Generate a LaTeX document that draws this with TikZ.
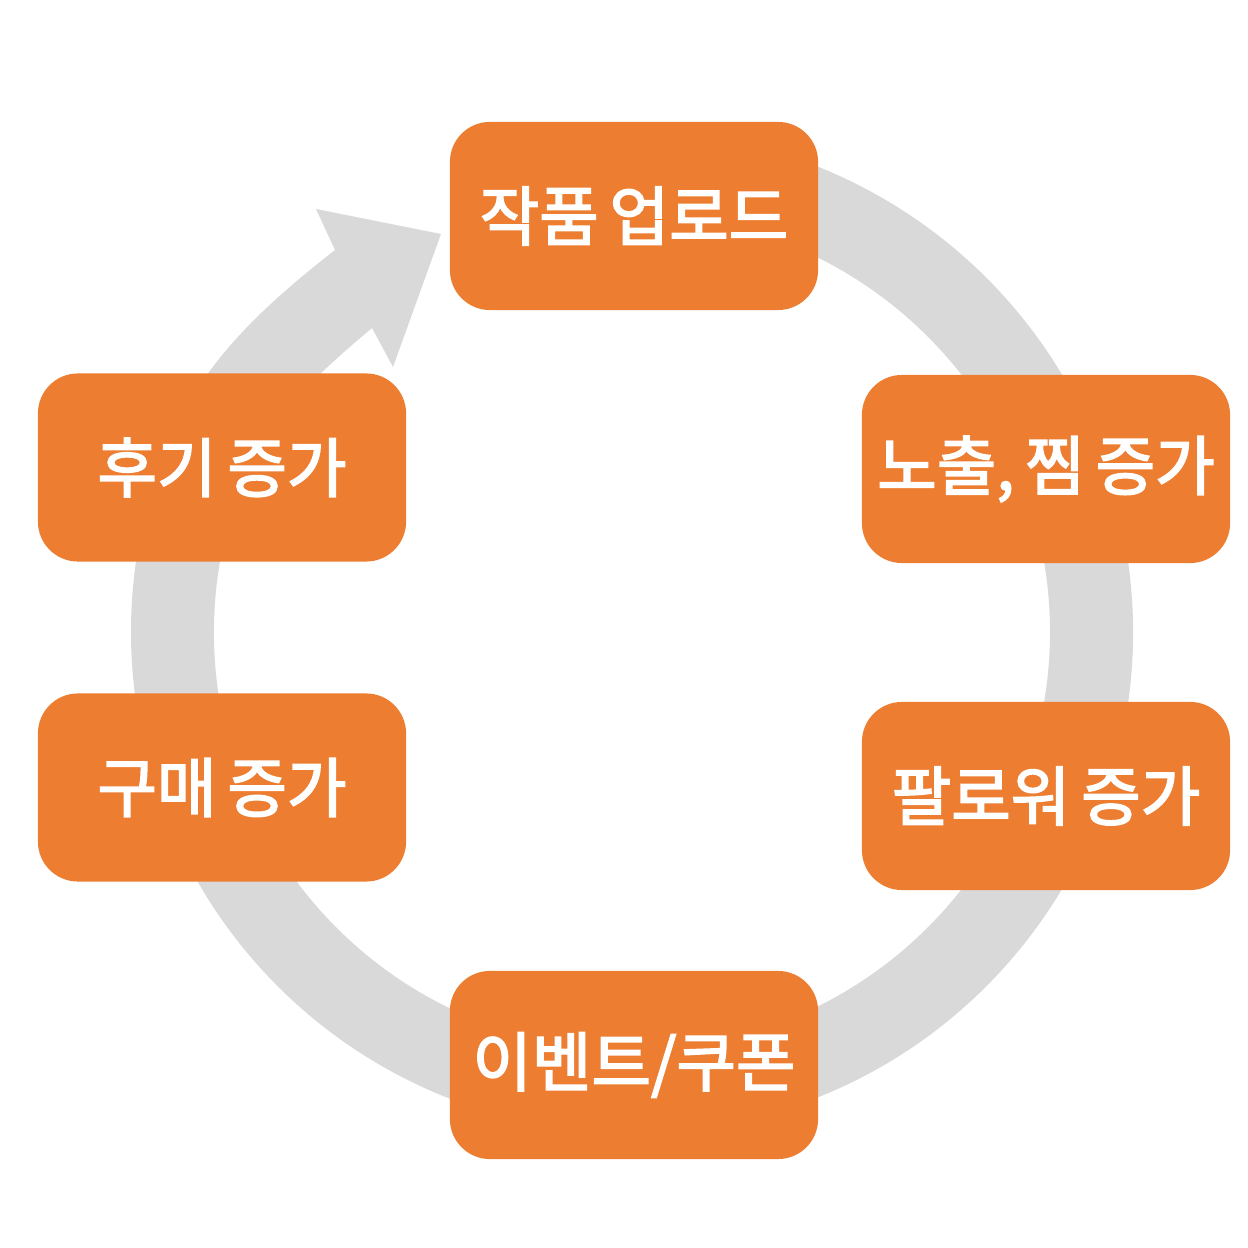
\documentclass[tikz,border=0pt]{standalone}
\usepackage{fontspec}
\newfontfamily\kr{Noto Sans CJK KR}[FakeBold=2.6, WordSpace=0.75]
\usetikzlibrary{calc}
\definecolor{boxorange}{HTML}{ED7D31}
\definecolor{bandgray}{HTML}{D9D9D9}
\tikzset{
  stepbox/.style={fill=boxorange, draw=none, rounded corners=0.4cm,
    minimum width=3.68cm, minimum height=1.88cm, inner sep=0pt,
    text=white, font=\kr\fontsize{18.4}{20}\selectfont},
  band/.style={fill=bandgray, draw=none}
}
\begin{document}
\begin{tikzpicture}[x=0.01cm, y=0.01cm]
\useasboundingbox (0,0) rectangle (1248,1248);
\coordinate (C) at (632,616);
% circular band with arrow head
\fill[band] ($(C)+(100:501)$) arc[start angle=100, end angle=-192, radius=501]
  to[out=78, in=218] (335,998) -- (316,1039) -- (441,1014) -- (393,881) -- (372,920)
  to[out=220, in=78] ($(C)+(168:418)$)
  arc[start angle=-192, end angle=100, radius=418] -- cycle;
% boxes
\node[stepbox] (top) at (634,1032) {작품 업로드};
\node[stepbox] (ru) at (1046,779) {노출, 찜 증가};
\node[stepbox] (rl) at (1046,452) {팔로워 증가};
\node[stepbox] (bot) at (634,183) {이벤트/쿠폰};
\node[stepbox] (ll) at (222,460.5) {구매 증가};
\node[stepbox] (lu) at (222,780.5) {후기 증가};
\end{tikzpicture}
\end{document}
